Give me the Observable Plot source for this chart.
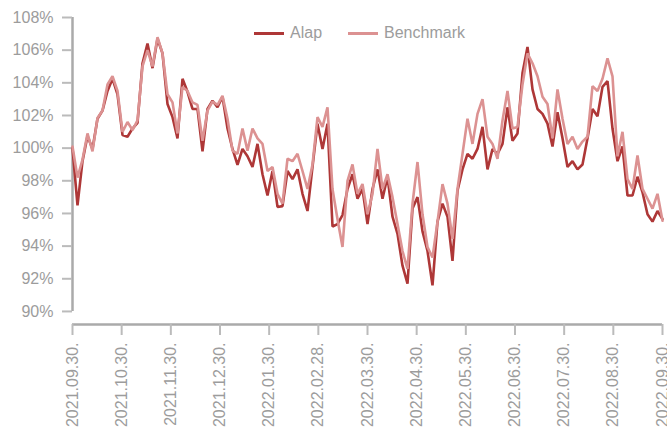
<!DOCTYPE html>
<html>
<head>
<meta charset="utf-8">
<script src="https://cdn.jsdelivr.net/npm/d3@7"></script>
<script src="https://cdn.jsdelivr.net/npm/@observablehq/plot@0.6"></script>
<style>
  body { margin: 0; background: #fff; }
  #wrap { position: relative; width: 667px; height: 427px; font-family: "Liberation Sans", Arial, sans-serif; }
  #legend { position: absolute; top: 24px; left: 254px; display: flex; align-items: center; font-size: 16px; color: #9c9c9c; white-space: nowrap; }
  .sw { display: inline-block; width: 30px; height: 3px; margin-right: 6px; }
  .item { display: flex; align-items: center; margin-right: 26px; }
</style>
</head>
<body>
<div id="wrap">
  <div id="chart"></div>
  <div id="legend"></div>
</div>
<script>
const seriesNames = ["Alap", "Benchmark"];
const seriesColors = ["#ae3737", "#dc9292"];

const xTickLabels = ["2021.09.30.", "2021.10.30.", "2021.11.30.", "2021.12.30.", "2022.01.30.", "2022.02.28.",
  "2022.03.30.", "2022.04.30.", "2022.05.30.", "2022.06.30.", "2022.07.30.", "2022.08.30.", "2022.09.30."];

const yTicks = [90, 92, 94, 96, 98, 100, 102, 104, 106, 108];

const alap = [100.0, 96.5, 99.2, 100.75, 99.95, 101.8, 102.3, 103.5, 104.25, 103.3,
  100.8, 100.7, 101.2, 101.55, 105.2, 106.4, 104.9, 106.7, 105.8, 102.7,
  101.9, 100.6, 104.25, 103.45, 102.4, 102.4, 99.8, 102.4, 102.9, 102.5,
  103.15, 101.2, 99.95, 98.98, 99.95, 99.5, 98.85, 100.26, 98.4, 97.1,
  98.6, 96.4, 96.45, 98.6, 98.1, 98.7, 97.2, 96.15, 98.85, 101.5,
  99.95, 101.5, 95.2, 95.35, 95.9, 97.5, 98.4, 96.9, 97.5, 95.35,
  97.5, 98.7, 96.9, 98.25, 95.8, 94.75, 92.8, 91.7, 96.3, 97.0,
  94.9, 93.7, 91.6, 95.5, 96.6, 95.8, 93.1, 97.4, 98.7, 99.65,
  99.35, 99.95, 101.3, 98.7, 99.95, 99.65, 100.26, 102.5, 100.45, 100.9,
  104.6, 106.2, 103.6, 102.4, 102.1, 101.5, 100.1, 102.2, 100.6, 98.85,
  99.2, 98.7, 99.0, 100.6, 102.4, 101.95, 103.75, 104.1, 101.2, 99.2,
  100.1, 97.1, 97.1, 98.25, 97.3, 95.95, 95.5, 96.15, 95.65];

const benchmark = [100.1, 98.2, 99.3, 100.9, 99.8, 101.85, 102.3, 103.9, 104.4, 103.5,
  101.0, 101.6, 101.1, 101.7, 105.0, 106.0, 105.0, 106.8, 105.8, 103.3,
  102.8, 100.9, 103.75, 103.5, 102.8, 102.65, 100.45, 102.3, 102.85, 102.65,
  103.2, 101.8, 99.85, 99.65, 101.2, 99.85, 101.2, 100.6, 100.26, 98.6,
  98.85, 97.2, 96.6, 99.35, 99.2, 99.65, 98.6, 97.5, 99.0, 101.9,
  101.3, 102.5, 97.5, 95.65, 93.95, 98.0, 99.0, 97.2, 97.8, 95.95,
  97.2, 99.95, 97.5, 98.4, 97.0, 95.35, 93.7, 92.6, 96.6, 99.15,
  95.95, 93.95, 93.3, 95.5, 97.8, 96.6, 94.45, 97.5, 99.65, 101.8,
  100.26, 102.1, 103.0, 100.7, 100.26, 99.35, 101.7, 103.5, 101.2, 101.3,
  103.9, 105.8, 105.2, 104.4, 103.15, 102.7, 100.6, 103.6, 101.8, 100.26,
  100.7, 99.95, 100.4, 100.7, 103.8, 103.5, 104.25, 105.5, 104.4, 99.5,
  101.0, 98.1, 97.5, 99.55, 97.5, 96.9, 96.3, 97.2, 95.55];

const n = alap.length;
const xTickPos = xTickLabels.map((_, k) => k * (n - 1) / (xTickLabels.length - 1));
const idx = d3.range(n);

const chart = Plot.plot({
  width: 667,
  height: 427,
  marginLeft: 72,
  marginRight: 5,
  marginTop: 17,
  marginBottom: 103,
  x: { domain: [0, n - 1], axis: null },
  y: { domain: [89.2, 108], axis: null },
  style: { fontFamily: "'Liberation Sans', Arial, sans-serif", fontSize: "16px", color: "#9c9c9c", background: "#fff" },
  marks: [
    Plot.ruleY([89.2], { stroke: "#aaa", strokeWidth: 2.5 }),
    Plot.ruleX([0], { y1: 90, y2: 108, stroke: "#aaa", strokeWidth: 2.5 }),
    Plot.axisY(yTicks, {
      anchor: "left", tickSize: 10, tickPadding: 9, stroke: "#bbb", strokeWidth: 2,
      tickFormat: d => d + "%", label: null, fill: "#9c9c9c", fontSize: 16
    }),
    Plot.axisX(xTickPos, {
      anchor: "bottom", tickSize: 11, tickPadding: 7, tickRotate: -90, stroke: "#bbb", strokeWidth: 2,
      tickFormat: d => xTickLabels[Math.round(d * (xTickLabels.length - 1) / (n - 1))],
      label: null, fill: "#9c9c9c", fontSize: 16
    }),
    Plot.line(idx, { x: i => i, y: i => alap[i], stroke: seriesColors[0], strokeWidth: 2.6, strokeLinejoin: "miter" }),
    Plot.line(idx, { x: i => i, y: i => benchmark[i], stroke: seriesColors[1], strokeWidth: 2.6, strokeLinejoin: "miter" })
  ]
});
document.getElementById("chart").appendChild(chart);

const legend = document.getElementById("legend");
seriesNames.forEach((name, i) => {
  const item = document.createElement("span");
  item.className = "item";
  const sw = document.createElement("span");
  sw.className = "sw";
  sw.style.background = seriesColors[i];
  item.appendChild(sw);
  item.appendChild(document.createTextNode(name));
  legend.appendChild(item);
});
</script>
</body>
</html>
